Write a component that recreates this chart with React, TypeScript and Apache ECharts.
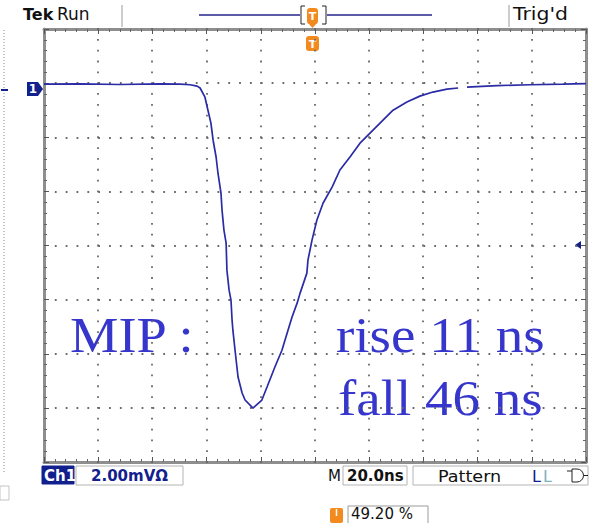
import React, { useEffect, useRef } from 'react';
import * as echarts from 'echarts';

// Channel 1 capture: 20 ns/div, 2 mV/div, ground one division below the top
const timeNs = [
  0, 13.3, 28.0, 42.8, 50.2, 53.9, 56.5, 57.6, 59.4, 60.5, 61.6, 62.4, 63.5, 64.2,
  65.3, 65.7, 66.4, 67.2, 67.5, 68.3, 69.0, 69.4, 69.7, 70.5, 71.6, 73.1, 74.2, 77.1,
  80.4, 82.3, 85.2, 87.8, 89.7, 91.5, 93.4, 94.5, 97.0, 97.4, 98.9, 100.7, 103.0,
  106.3, 109.2, 112.9, 116.6, 120.3, 125.1, 128.8, 133.9, 138.7, 143.5, 148.7, 152.8,
  154.5, 156.1, 167.2, 179.3, 191.5, 200,
];
const voltageMv: (number | null)[] = [
  -0.04, -0.03, -0.05, -0.03, -0.04, -0.06, -0.11, -0.18, -0.52, -1.0, -1.48, -2.11,
  -2.73, -3.33, -4.06, -4.69, -5.43, -5.91, -6.91, -7.65, -8.02, -8.76, -9.13, -9.87,
  -10.86, -11.45, -11.71, -12.01, -11.71, -11.23, -10.49, -9.87, -9.24, -8.65, -8.13,
  -7.76, -7.02, -6.54, -5.8, -5.06, -4.43, -3.84, -3.21, -2.73, -2.22, -1.85, -1.37,
  -1.0, -0.7, -0.48, -0.33, -0.22, -0.18, null, -0.15, -0.09, -0.06, -0.04, -0.02,
];

const timeRange = [0, 200];
const timePerDiv = 20;
const voltRange = [-14, 2];
const voltPerDiv = 2;

const annotation = 'MIP :';
const riseLabel = 'rise 11 ns';
const fallLabel = 'fall 46 ns';
const scaleLabel = '2.00mVΩ';
const timebaseLabel = '20.0ns';
const triggerLabel = 'Pattern';
const triggerPosLabel = '49.20 %';

const NAVY = '#12208e';
const TRACE = '#2b2ba6';
const ORANGE = '#f28a1e';
const TXT_BLUE = '#3636cc';
const DOT = '#6a6a6a';
const SANS = '"DejaVu Sans", sans-serif';
const SERIF = '"Liberation Serif", "Times New Roman", serif';

function txt(
  text: string, x: number, y: number, font: string, fill: string,
  align = 'left', scaleX = 1,
) {
  return {
    type: 'text',
    silent: true,
    x, y, scaleX, originX: 0, originY: 0,
    style: {
      text, x: 0, y: 0, font, fill,
      align, textAlign: align,
      verticalAlign: 'middle', textVerticalAlign: 'middle',
    },
  };
}

function box(x: number, y: number, w: number, h: number, fill = '#fff', stroke = '#b4b4b4') {
  return {
    type: 'rect',
    silent: true,
    shape: { x, y, width: w, height: h },
    style: { fill, stroke, lineWidth: 1 },
  };
}

function line(x1: number, y1: number, x2: number, y2: number, stroke: string, lineWidth = 1, lineDash?: number[]) {
  return {
    type: 'line',
    silent: true,
    shape: { x1, y1, x2, y2 },
    style: { stroke, lineWidth, lineDash },
  };
}

function axisCommon(position: string, split: boolean) {
  return {
    type: 'value',
    position,
    axisLabel: { show: false },
    axisLine: { show: true, onZero: false, lineStyle: { color: '#8e8e8e', width: 3 } },
    axisTick: { show: true, inside: true, length: 5, lineStyle: { color: '#555', width: 1 } },
    minorTick: { show: true, splitNumber: 5, length: 3, lineStyle: { color: '#666', width: 1 } },
    splitLine: { show: split, lineStyle: { color: DOT, width: 1.8, type: [1.8, 9.04] } },
  };
}

export default function App() {
  const ref = useRef<HTMLDivElement>(null);

  useEffect(() => {
    if (!ref.current) return;
    const chart = echarts.init(ref.current, null, { renderer: 'svg' });

    const trace = timeNs.map((t, i) => [t, voltageMv[i] ?? '-']);

    // one vertical graticule column per inner time division
    const divisions: number[][] = [];
    for (let t = timeRange[0] + timePerDiv; t < timeRange[1]; t += timePerDiv) divisions.push([t, 0]);
    const voltDivs = (voltRange[1] - voltRange[0]) / voltPerDiv;

    const xBase = { min: timeRange[0], max: timeRange[1], interval: timePerDiv };
    const yBase = { min: voltRange[0], max: voltRange[1], interval: voltPerDiv };

    chart.setOption({
      animation: false,
      backgroundColor: '#ffffff',
      grid: { left: 44, right: 12, top: 29, bottom: 61, containLabel: false },
      xAxis: [
        { ...axisCommon('bottom', false), ...xBase },
        { ...axisCommon('top', false), ...xBase },
      ],
      yAxis: [
        { ...axisCommon('left', true), ...yBase },
        { ...axisCommon('right', false), ...yBase },
      ],
      series: [
        {
          type: 'custom',
          xAxisIndex: 0,
          yAxisIndex: 0,
          silent: true,
          z: 1,
          clip: false,
          data: divisions,
          renderItem: (_params: any, api: any) => {
            const t = api.value(0);
            const top = api.coord([t, voltRange[1]]);
            const bottom = api.coord([t, voltRange[0]]);
            const step = (bottom[1] - top[1]) / (voltDivs * 5);
            const cx = Math.round(top[0]);
            const children = [];
            for (let k = 0; k <= voltDivs * 5; k++) {
              children.push({
                type: 'rect',
                silent: true,
                shape: { x: cx - 0.9, y: top[1] + k * step - 0.9, width: 1.8, height: 1.8 },
                style: { fill: DOT },
              });
            }
            return { type: 'group', children };
          },
        },
        {
          type: 'line',
          xAxisIndex: 0,
          yAxisIndex: 0,
          data: trace,
          z: 3,
          showSymbol: false,
          symbol: 'none',
          connectNulls: false,
          lineStyle: { color: TRACE, width: 1.7 },
          silent: true,
        },
      ],
      graphic: [
        // header
        txt('Tek', 23, 14, `bold 16px ${SANS}`, '#111'),
        txt('Run', 57, 14, `17px ${SANS}`, '#111'),
        line(122, 5, 122, 27, '#9a9a9a', 1),
        line(199, 15, 300, 15, '#5a5aa6', 2),
        line(327, 15, 432, 15, '#5a5aa6', 2),
        {
          type: 'polyline', silent: true,
          shape: { points: [[305, 6], [301, 6], [301, 24], [305, 24]] },
          style: { stroke: '#222', lineWidth: 1, fill: null },
        },
        {
          type: 'polyline', silent: true,
          shape: { points: [[322, 6], [326, 6], [326, 24], [322, 24]] },
          style: { stroke: '#222', lineWidth: 1, fill: null },
        },
        {
          type: 'rect', silent: true,
          shape: { x: 307, y: 8, width: 11, height: 16, r: 3 },
          style: { fill: ORANGE },
        },
        txt('T', 312.5, 16, `bold 11px ${SANS}`, '#fff', 'center'),
        {
          type: 'polygon', silent: true,
          shape: { points: [[308, 23], [317, 23], [312.5, 28]] },
          style: { fill: ORANGE },
        },
        {
          type: 'rect', silent: true,
          shape: { x: 306, y: 36, width: 13, height: 15, r: 3 },
          style: { fill: ORANGE },
        },
        txt('T', 312.5, 44, `bold 11px ${SANS}`, '#fff', 'center'),
        line(509, 5, 509, 27, '#9a9a9a', 1),
        txt("Trig'd", 513, 14, `17px ${SANS}`, '#111', 'left', 1.2),

        // left edge strip
        line(4, 30, 4, 472, '#8a8a8a', 1, [1, 2]),
        line(1, 90, 8, 90, NAVY, 2),
        box(0, 486, 9, 14, '#fff', '#c4c4c4'),

        // channel ground marker
        {
          type: 'polygon', silent: true,
          shape: { points: [[27, 82], [38, 82], [43, 89], [38, 96], [27, 96]] },
          style: { fill: NAVY },
        },
        txt('1', 33, 89, `bold 12px ${SANS}`, '#fff', 'center'),

        // trigger level marker
        {
          type: 'polygon', silent: true,
          shape: { points: [[575, 245], [581, 241], [581, 249]] },
          style: { fill: NAVY },
        },

        // annotations
        txt(annotation, 70, 335, `50px ${SERIF}`, TXT_BLUE, 'left', 1.09),
        txt(riseLabel, 336, 335, `50px ${SERIF}`, TXT_BLUE, 'left', 1.1),
        txt(fallLabel, 338, 398, `50px ${SERIF}`, TXT_BLUE, 'left', 1.1),

        // status bar
        box(42, 466, 32, 18, NAVY, NAVY),
        txt('Ch1', 44, 476, `bold 15px ${SANS}`, '#fff'),
        box(76, 466, 107, 19),
        txt(scaleLabel, 91, 476, `bold 15px ${SANS}`, NAVY),
        txt('M', 328, 476, `15px ${SANS}`, '#111'),
        box(343, 466, 64, 19),
        txt(timebaseLabel, 347, 476, `bold 15px ${SANS}`, '#111'),
        box(413, 466, 175, 19),
        txt(triggerLabel, 438, 476, `16px ${SANS}`, '#111', 'left', 1.1),
        txt('L', 532, 476, `16px ${SANS}`, NAVY),
        txt('L', 543, 476, `16px ${SANS}`, '#7fb2c0'),
        line(567, 471, 572, 471, '#222', 1),
        {
          type: 'polyline', silent: true,
          shape: { points: [[572, 469], [572, 482], [577, 482]] },
          style: { stroke: '#222', lineWidth: 1, fill: null },
        },
        {
          type: 'arc', silent: true,
          shape: { cx: 577, cy: 475.5, r: 6.5, startAngle: -Math.PI / 2, endAngle: Math.PI / 2 },
          style: { stroke: '#222', lineWidth: 1, fill: null },
        },
        line(572, 469, 577, 469, '#222', 1),
        line(583.5, 475.5, 588, 475.5, '#222', 1),

        // trigger position readout
        {
          type: 'rect', silent: true,
          shape: { x: 330, y: 508, width: 13, height: 15, r: 2 },
          style: { fill: ORANGE },
        },
        line(336.5, 509, 336.5, 516, '#fff', 1.5),
        box(348, 506, 80, 18, '#fff', '#9a9a9a'),
        txt(triggerPosLabel, 351, 514, `15px ${SANS}`, '#111'),
      ],
    });

    return () => chart.dispose();
  }, []);

  return (
    <div
      ref={ref}
      style={{ position: 'fixed', left: 0, top: 0, width: 598, height: 523 }}
    />
  );
}
